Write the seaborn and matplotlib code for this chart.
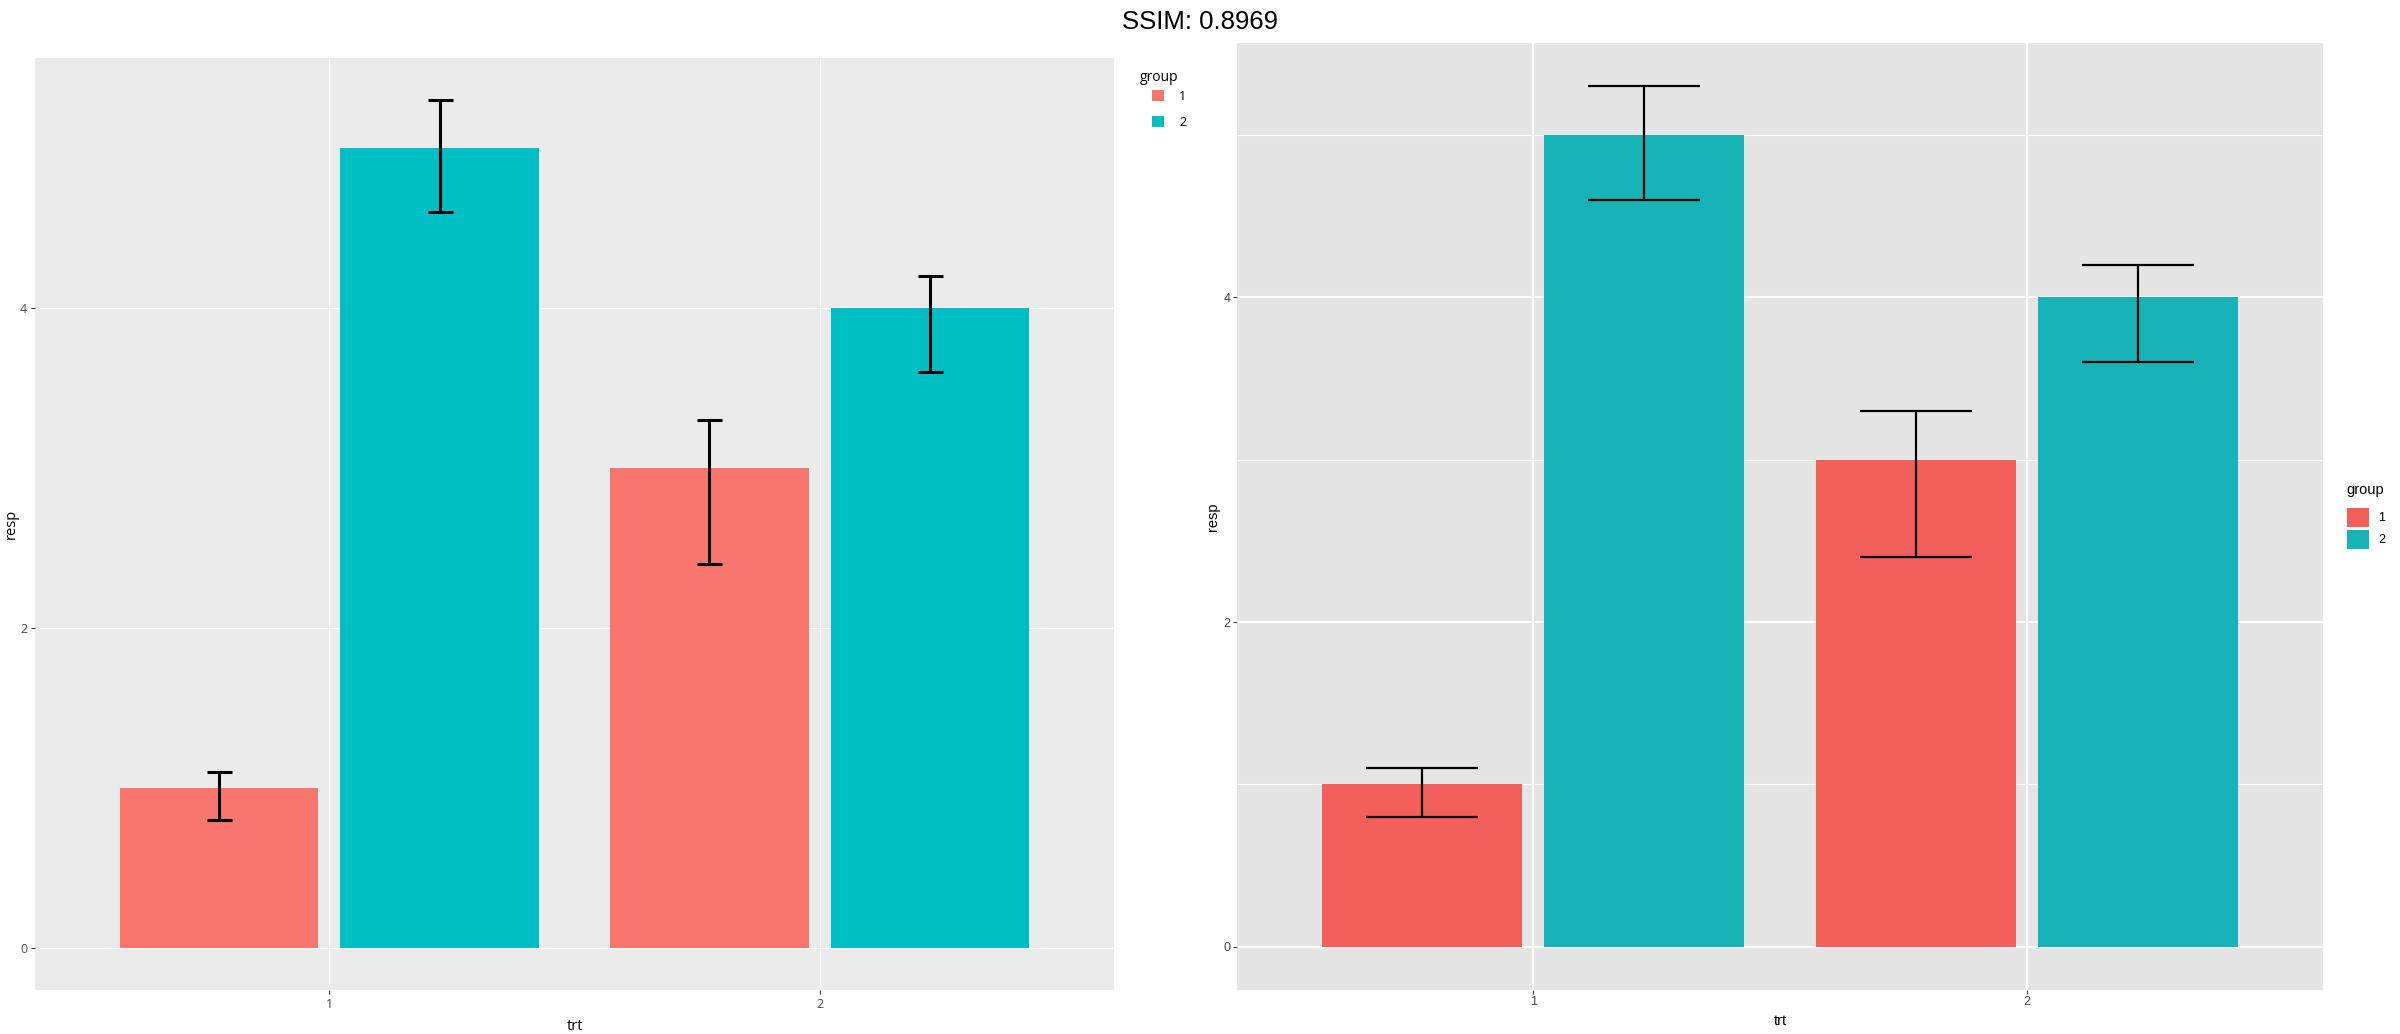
import pandas as pd
import matplotlib.pyplot as plt
import seaborn as sns
from matplotlib.ticker import MultipleLocator

# données du graphique
trt = ['1', '1', '2', '2']
group = ['1', '2', '1', '2']
resp = [1, 5, 3, 4]
lower = [0.8, 4.6, 2.4, 3.6]
upper = [1.1, 5.3, 3.3, 4.2]
groups = ['1', '2']

df = pd.DataFrame({'trt': trt, 'group': group, 'resp': resp,
                   'lower': lower, 'upper': upper})

gg_cols = ['#F8766D', '#00BFC4']
ply_cols = ['#F35F5B', '#18B3B7']

fig = plt.figure(figsize=(24, 10.34), dpi=100)
ax1 = fig.add_axes([0.0146, 0.0426, 0.4496, 0.9014])
ax2 = fig.add_axes([0.5154, 0.0426, 0.4525, 0.9158])


def draw(ax, cols, cap, lw, font, bg):
    sns.barplot(data=df, x='trt', y='resp', hue='group', hue_order=groups,
                palette=cols, width=0.9, gap=0.1, errorbar=None,
                saturation=1, linewidth=0, ax=ax)
    # barres d'erreur au centre des barres
    for cont, g in zip(ax.containers, groups):
        sub = df[df['group'] == g]
        xs = [p.get_x() + p.get_width() / 2 for p in cont]
        ax.errorbar(xs, sub['resp'],
                    yerr=[sub['resp'] - sub['lower'], sub['upper'] - sub['resp']],
                    fmt='none', ecolor='black', elinewidth=lw,
                    capsize=cap, capthick=lw, zorder=5)
    ax.set_xlim(-0.6, 1.6)
    ax.set_ylim(-0.265, 5.565)
    ax.yaxis.set_major_locator(MultipleLocator(2))
    ax.set_facecolor(bg)
    ax.set_axisbelow(True)
    for s in ax.spines.values():
        s.set_visible(False)
    ax.set_xlabel('trt', fontsize=10.5, family=font)
    ax.set_ylabel('resp', fontsize=10.5, family=font)
    for t in ax.get_xticklabels() + ax.get_yticklabels():
        t.set_family(font)


# panneau gauche (ggplot)
draw(ax1, gg_cols, 9, 2.2, 'Open Sans', '#EBEBEB')
ax1.grid(True, which='major', color='white', linewidth=0.9)
ax1.tick_params(length=3, width=0.8, color='#333333', labelcolor='#4D4D4D',
                labelsize=9, pad=2.5)
ax1.xaxis.set_label_coords(0.5, -0.031)
ax1.yaxis.set_label_coords(-0.0148, 0.5)
h, l = ax1.get_legend_handles_labels()
ax1.legend(h, l, loc='upper left', bbox_to_anchor=(0.48, 0.9134),
           bbox_transform=fig.transFigure, frameon=False, borderpad=0,
           borderaxespad=0, handlelength=0.96, handleheight=0.96,
           labelspacing=1.05, handletextpad=1.2,
           prop={'family': 'Open Sans', 'size': 9})
fig.text(0.475, 0.9246, 'group', family='Open Sans', fontsize=10,
         ha='left', va='center')

# panneau droit (plotly)
draw(ax2, ply_cols, 40, 1.6, 'Liberation Sans', '#E5E5E5')
ax2.yaxis.set_minor_locator(MultipleLocator(1))
ax2.grid(True, which='major', color='white', linewidth=1.5)
ax2.grid(True, which='minor', axis='y', color='white', linewidth=0.8)
ax2.tick_params(which='major', length=3, width=0.8, color='#444444',
                labelcolor='#444444', labelsize=9, pad=1.5)
ax2.tick_params(which='minor', length=0)
ax2.xaxis.set_label_coords(0.5, -0.025)
ax2.yaxis.set_label_coords(-0.0157, 0.5)
h, l = ax2.get_legend_handles_labels()
ax2.legend(h, l, loc='upper left', bbox_to_anchor=(0.978, 0.509),
           bbox_transform=fig.transFigure, frameon=False, borderpad=0,
           borderaxespad=0, handlelength=1.76, handleheight=2.0,
           labelspacing=0.2, handletextpad=0.7,
           prop={'family': 'Liberation Sans', 'size': 9})
fig.text(0.9775, 0.5261, 'group', family='Liberation Sans', fontsize=10.5,
         ha='left', va='center')

fig.suptitle('SSIM: 0.8969', fontsize=18.5, family='Liberation Sans', y=0.99)

plt.savefig('out.png', dpi=100)
